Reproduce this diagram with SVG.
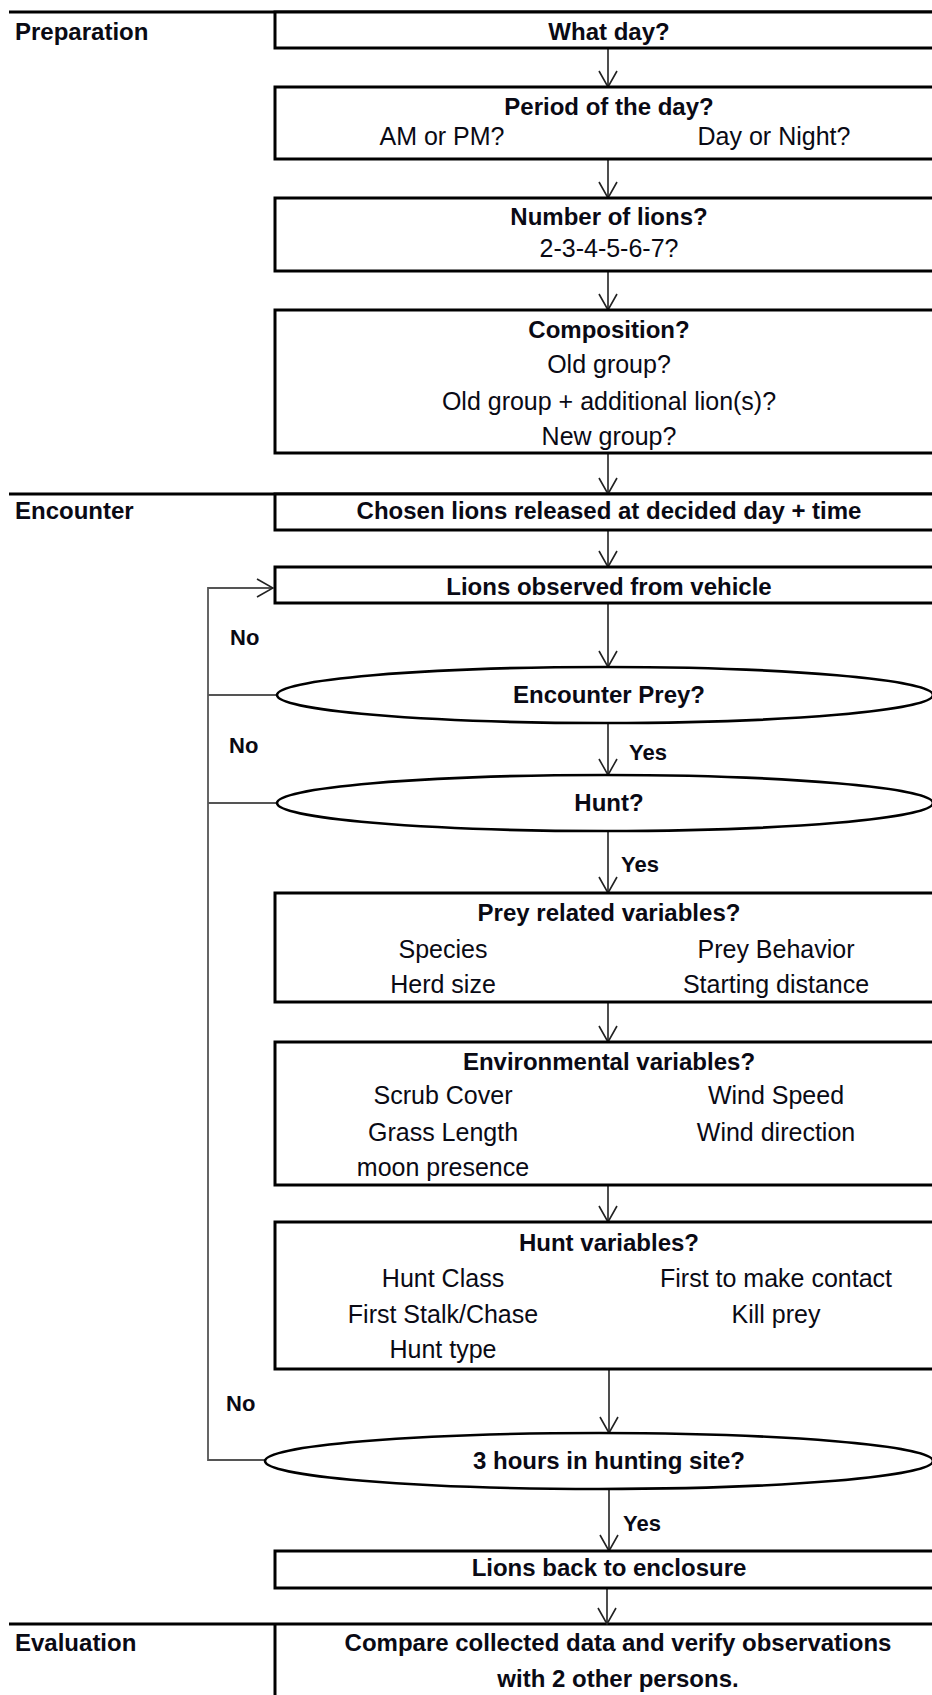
<svg xmlns="http://www.w3.org/2000/svg" width="932" height="1695" viewBox="0 0 932 1695">
<defs>
<style>
.box{fill:#fff;stroke:#000;stroke-width:3}
.ell{fill:#fff;stroke:#000;stroke-width:2.6}
.lane{stroke:#000;stroke-width:3;fill:none}
.con{stroke:#222;stroke-width:1.6;fill:none}
.loop{stroke:#555;stroke-width:1.8;fill:none}
text{font-family:"Liberation Sans",Arial,sans-serif;fill:#0a0a14}
.b{font-weight:bold;font-size:24px}
.r{font-size:25px}
.m{text-anchor:middle}
.lbl{font-weight:bold;font-size:22px}
</style>
<marker id="arr" viewBox="0 0 18 20" refX="17" refY="10" markerWidth="18" markerHeight="20" markerUnits="userSpaceOnUse" orient="auto">
<path d="M1,1 L17,10 L1,19" fill="none" stroke="#222" stroke-width="1.6"/>
</marker>
</defs>
<rect width="932" height="1695" fill="#fff"/>

<g id="lanes">
<line class="lane" x1="9" y1="12" x2="940" y2="12"/>
<line class="lane" x1="9" y1="494" x2="940" y2="494"/>
<line class="lane" x1="9" y1="1624" x2="940" y2="1624"/>
<line class="lane" x1="275" y1="1624" x2="275" y2="1700"/>
<text class="b" x="15" y="40">Preparation</text>
<text class="b" x="15" y="519">Encounter</text>
<text class="b" x="15" y="1651">Evaluation</text>
</g>

<g id="connectors">
<line class="con" x1="608" y1="48" x2="608" y2="87" marker-end="url(#arr)"/>
<line class="con" x1="608" y1="159" x2="608" y2="198" marker-end="url(#arr)"/>
<line class="con" x1="608" y1="271" x2="608" y2="310" marker-end="url(#arr)"/>
<line class="con" x1="608" y1="453" x2="608" y2="494" marker-end="url(#arr)"/>
<line class="con" x1="608" y1="530" x2="608" y2="567" marker-end="url(#arr)"/>
<line class="con" x1="608" y1="603" x2="608" y2="667" marker-end="url(#arr)"/>
<line class="con" x1="608" y1="723" x2="608" y2="775" marker-end="url(#arr)"/>
<line class="con" x1="608" y1="831" x2="608" y2="893" marker-end="url(#arr)"/>
<line class="con" x1="608" y1="1002" x2="608" y2="1042" marker-end="url(#arr)"/>
<line class="con" x1="608" y1="1185" x2="608" y2="1222" marker-end="url(#arr)"/>
<line class="con" x1="609" y1="1369" x2="609" y2="1433" marker-end="url(#arr)"/>
<line class="con" x1="609" y1="1489" x2="609" y2="1551" marker-end="url(#arr)"/>
<line class="con" x1="607" y1="1588" x2="607" y2="1624" marker-end="url(#arr)"/>
<polyline class="loop" points="265,1460 208,1460 208,588 273,588" marker-end="url(#arr)"/>
<line class="loop" x1="277" y1="695" x2="208" y2="695"/>
<line class="loop" x1="277" y1="803" x2="208" y2="803"/>
<text class="lbl" x="230" y="645">No</text>
<text class="lbl" x="229" y="753">No</text>
<text class="lbl" x="226" y="1411">No</text>
<text class="lbl" x="629" y="760">Yes</text>
<text class="lbl" x="621" y="872">Yes</text>
<text class="lbl" x="623" y="1531">Yes</text>
</g>

<g id="n_whatday">
<rect class="box" x="275" y="12" width="670" height="36"/>
<text class="b m" x="609" y="40">What day?</text>
</g>
<g id="n_period">
<rect class="box" x="275" y="87" width="670" height="72"/>
<text class="b m" x="609" y="115">Period of the day?</text>
<text class="r m" x="442" y="145">AM or PM?</text>
<text class="r m" x="774" y="145">Day or Night?</text>
</g>
<g id="n_number">
<rect class="box" x="275" y="198" width="670" height="73"/>
<text class="b m" x="609" y="225">Number of lions?</text>
<text class="r m" x="609" y="257">2-3-4-5-6-7?</text>
</g>
<g id="n_composition">
<rect class="box" x="275" y="310" width="670" height="143"/>
<text class="b m" x="609" y="338">Composition?</text>
<text class="r m" x="609" y="373">Old group?</text>
<text class="r m" x="609" y="410">Old group + additional lion(s)?</text>
<text class="r m" x="609" y="445">New group?</text>
</g>
<g id="n_released">
<rect class="box" x="275" y="494" width="670" height="36"/>
<text class="b m" x="609" y="519">Chosen lions released at decided day + time</text>
</g>
<g id="n_observed">
<rect class="box" x="275" y="567" width="670" height="36"/>
<text class="b m" x="609" y="595">Lions observed from vehicle</text>
</g>
<g id="n_encounter">
<ellipse class="ell" cx="605" cy="695" rx="328" ry="28"/>
<text class="b m" x="609" y="703">Encounter Prey?</text>
</g>
<g id="n_hunt">
<ellipse class="ell" cx="605" cy="803" rx="328" ry="28"/>
<text class="b m" x="609" y="811">Hunt?</text>
</g>
<g id="n_prey">
<rect class="box" x="275" y="893" width="670" height="109"/>
<text class="b m" x="609" y="921">Prey related variables?</text>
<text class="r m" x="443" y="958">Species</text>
<text class="r m" x="776" y="958">Prey Behavior</text>
<text class="r m" x="443" y="993">Herd size</text>
<text class="r m" x="776" y="993">Starting distance</text>
</g>
<g id="n_env">
<rect class="box" x="275" y="1042" width="670" height="143"/>
<text class="b m" x="609" y="1070">Environmental variables?</text>
<text class="r m" x="443" y="1104">Scrub Cover</text>
<text class="r m" x="776" y="1104">Wind Speed</text>
<text class="r m" x="443" y="1141">Grass Length</text>
<text class="r m" x="776" y="1141">Wind direction</text>
<text class="r m" x="443" y="1176">moon presence</text>
</g>
<g id="n_huntvars">
<rect class="box" x="275" y="1222" width="670" height="147"/>
<text class="b m" x="609" y="1251">Hunt variables?</text>
<text class="r m" x="443" y="1287">Hunt Class</text>
<text class="r m" x="776" y="1287">First to make contact</text>
<text class="r m" x="443" y="1323">First Stalk/Chase</text>
<text class="r m" x="776" y="1323">Kill prey</text>
<text class="r m" x="443" y="1358">Hunt type</text>
</g>
<g id="n_3hours">
<ellipse class="ell" cx="599" cy="1461" rx="334" ry="28"/>
<text class="b m" x="609" y="1469">3 hours in hunting site?</text>
</g>
<g id="n_back">
<rect class="box" x="275" y="1551" width="670" height="37"/>
<text class="b m" x="609" y="1576">Lions back to enclosure</text>
</g>
<g id="n_evaluation">
<text class="b m" x="618" y="1651">Compare collected data and verify observations</text>
<text class="b m" x="618" y="1687">with 2 other persons.</text>
</g>
</svg>
